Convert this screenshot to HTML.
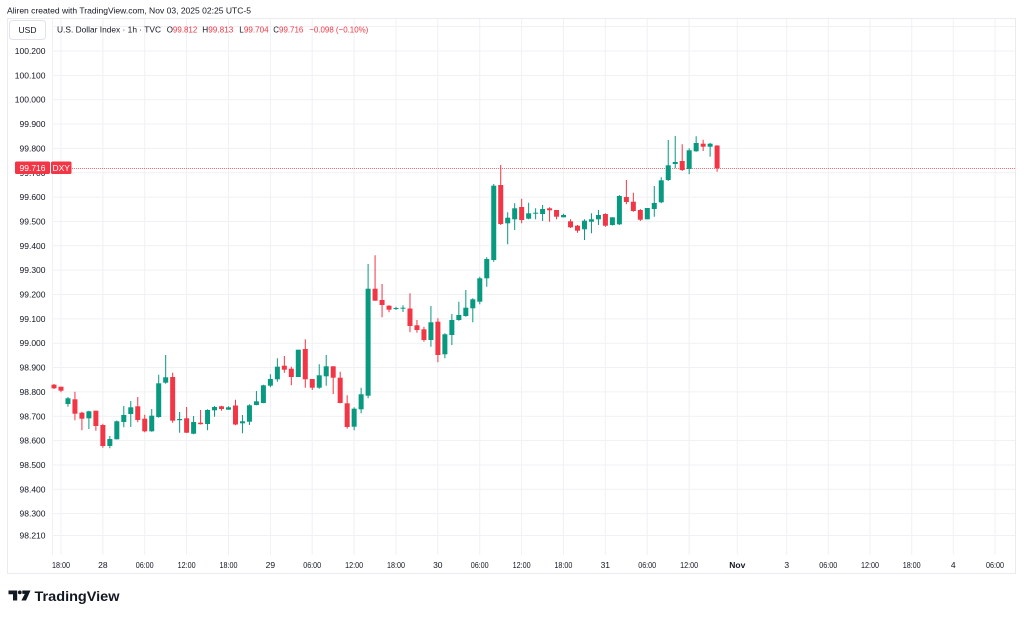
<!DOCTYPE html>
<html>
<head>
<meta charset="utf-8">
<style>
html,body{margin:0;padding:0;background:#ffffff;}
svg{display:block;}
text{font-family:"Liberation Sans",Arial,sans-serif;}
</style>
</head>
<body>
<svg width="1024" height="618" viewBox="0 0 1024 618" xmlns="http://www.w3.org/2000/svg">
<rect x="0" y="0" width="1024" height="618" fill="#ffffff"/>

<!-- header -->
<text x="7" y="13.5" font-size="8.6" fill="#131722" textLength="244" lengthAdjust="spacingAndGlyphs">Aliren created with TradingView.com, Nov 03, 2025 02:25 UTC-5</text>

<!-- frame -->
<rect x="7.5" y="18.5" width="1008" height="555" fill="none" stroke="#e9ebef" stroke-width="1"/>

<!-- gridlines -->
<g stroke="#f0f1f4" stroke-width="1">
<path d="M52.5 18.5V555"/>
<path d="M61 19V555M102.9 19V555M144.7 19V555M186.6 19V555M228.5 19V555M270.4 19V555M312.2 19V555M354.1 19V555M396 19V555M437.8 19V555M479.7 19V555M521.6 19V555M563.4 19V555M605.3 19V555M647.2 19V555M689.1 19V555M737.3 19V555M786.7 19V555M828.3 19V555M870 19V555M911.7 19V555M953.3 19V555M995 19V555"/>
<path d="M52 26.65H1015M52 51H1015M52 75.35H1015M52 99.7H1015M52 124.05H1015M52 148.4H1015M52 172.75H1015M52 197.1H1015M52 221.45H1015M52 245.8H1015M52 270.15H1015M52 294.5H1015M52 318.85H1015M52 343.2H1015M52 367.55H1015M52 391.9H1015M52 416.25H1015M52 440.6H1015M52 464.95H1015M52 489.3H1015M52 513.65H1015M52 535.5H1015"/>
</g>

<!-- y axis labels -->
<g font-size="8.5" fill="#131722" text-anchor="end">
<text x="45.5" y="54">100.200</text>
<text x="45.5" y="78.35">100.100</text>
<text x="45.5" y="102.7">100.000</text>
<text x="45.5" y="127.05">99.900</text>
<text x="45.5" y="151.4">99.800</text>
<text x="45.5" y="175.75">99.700</text>
<text x="45.5" y="200.1">99.600</text>
<text x="45.5" y="224.45">99.500</text>
<text x="45.5" y="248.8">99.400</text>
<text x="45.5" y="273.15">99.300</text>
<text x="45.5" y="297.5">99.200</text>
<text x="45.5" y="321.85">99.100</text>
<text x="45.5" y="346.2">99.000</text>
<text x="45.5" y="370.55">98.900</text>
<text x="45.5" y="394.9">98.800</text>
<text x="45.5" y="419.25">98.700</text>
<text x="45.5" y="443.6">98.600</text>
<text x="45.5" y="467.95">98.500</text>
<text x="45.5" y="492.3">98.400</text>
<text x="45.5" y="516.65">98.300</text>
<text x="45.5" y="538.6">98.210</text>
</g>

<!-- USD box -->
<rect x="9.5" y="20.5" width="36" height="19" rx="3" fill="#ffffff" stroke="#e0e3eb"/>
<text x="27.5" y="33" font-size="8.5" fill="#131722" text-anchor="middle">USD</text>

<!-- legend -->
<g font-size="8.6">
<text x="57" y="32.5" fill="#131722" textLength="104" lengthAdjust="spacingAndGlyphs">U.S. Dollar Index · 1h · TVC</text>
<text x="166.7" y="32.5" textLength="30.6" lengthAdjust="spacingAndGlyphs"><tspan fill="#131722">O</tspan><tspan fill="#f23645">99.812</tspan></text>
<text x="202.3" y="32.5" textLength="31" lengthAdjust="spacingAndGlyphs"><tspan fill="#131722">H</tspan><tspan fill="#f23645">99.813</tspan></text>
<text x="239.3" y="32.5" textLength="29.4" lengthAdjust="spacingAndGlyphs"><tspan fill="#131722">L</tspan><tspan fill="#f23645">99.704</tspan></text>
<text x="273.3" y="32.5" textLength="30" lengthAdjust="spacingAndGlyphs"><tspan fill="#131722">C</tspan><tspan fill="#f23645">99.716</tspan></text>
<text x="309.3" y="32.5" fill="#f23645" textLength="59" lengthAdjust="spacingAndGlyphs">−0.098 (−0.10%)</text>
</g>

<!-- current price line -->
<path d="M72 168.5H1015" stroke="#f23645" stroke-width="1" stroke-dasharray="1 1" opacity="0.7"/>

<!-- candles: wicks -->
<g stroke="#089981" stroke-width="1" fill="none">
<path d="M67.96 397V406.7M88.9 410.7V429M109.84 436V448.3M116.82 420.5V439.5M123.8 406V427.3M130.78 401V427M151.72 409V431.7M158.7 374.7V417.7M165.68 355V383.7M179.64 412V432.7M193.6 416V434.3M207.56 409.3V430.3M214.54 406V416.7M228.5 406.3V409.7M242.46 415V433.3M249.44 404.3V425M256.42 391V405.3M263.4 384.7V403.3M270.38 374.3V387.3M277.36 358.3V381.7M298.3 349.7V377M319.24 364.3V388.7M326.22 355V385.7M354.14 407.3V430.3M361.12 387.7V413.3M368.1 264V398.3M396.02 306.7V310M403 305.3V312M430.92 306V346.7M444.88 333.3V358.3M451.86 314V345M458.84 301.7V320.7M465.82 290V316.7M472.8 298.3V322.3M479.78 276.7V304.3M486.76 257.3V286.7M493.74 184V261.7M507.7 212.3V244.3M514.68 203.3V230M528.64 202.7V219.3M535.62 208.3V219.3M542.6 205V221M563.54 213.7V217.3M584.48 219.3V240M591.46 213.3V233.3M598.44 210V225M612.4 217.3V225.5M619.38 195V225M647.3 208V219.3M654.28 186V216.7M661.26 177.3V203.3M668.24 140V181M675.22 136V168.3M689.18 148.3V174.3M696.16 136.3V151.7M710.12 143V156.7"/>
</g>
<g stroke="#f23645" stroke-width="1" fill="none">
<path d="M54 384V389M60.98 386.7V392.3M74.94 391.7V420.3M81.92 411.7V430.3M95.88 410.7V430.7M102.86 423.7V447.7M137.76 397V422.3M144.74 414.7V432.3M172.66 372.7V422.7M186.62 407V433M200.58 410V424.5M221.52 405.7V410.7M235.48 399.7V425.3M284.34 356V372.7M291.32 366.7V385.3M305.28 339.3V387.7M312.26 379V390M333.2 366.3V394M340.18 371.7V403.3M347.16 395.3V428.7M375.08 255.3V300.7M382.06 284V317.3M389.04 305.3V312.3M409.98 293.3V332.2M416.96 320V332.7M423.94 326.7V341.7M437.9 318.3V362.3M500.72 165V225M521.66 198.7V223.3M549.58 207.3V221.7M556.56 210V219.3M570.52 219.3V228M577.5 225V232.7M605.42 213.3V226.7M626.36 180V204.3M633.34 192.7V211.7M640.32 209V221M682.2 144.3V171M703.14 139.7V151M717.1 145.2V171.8"/>
</g>

<!-- candles: bodies -->
<g fill="#089981">
<rect x="65.46" y="398.3" width="5" height="5.7"/>
<rect x="86.4" y="411.3" width="5" height="7"/>
<rect x="107.34" y="439" width="5" height="7"/>
<rect x="114.32" y="421.3" width="5" height="18"/>
<rect x="121.3" y="415" width="5" height="7"/>
<rect x="128.28" y="407.3" width="5" height="6.7"/>
<rect x="149.22" y="415.7" width="5" height="15.6"/>
<rect x="156.2" y="383.3" width="5" height="33.7"/>
<rect x="163.18" y="377.3" width="5" height="5.4"/>
<rect x="177.14" y="419" width="5" height="1.2"/>
<rect x="191.1" y="422" width="5" height="11.7"/>
<rect x="205.06" y="410" width="5" height="14"/>
<rect x="212.04" y="407" width="5" height="3.3"/>
<rect x="226" y="407.3" width="5" height="2.4"/>
<rect x="239.96" y="421.3" width="5" height="2"/>
<rect x="246.94" y="405.3" width="5" height="16.4"/>
<rect x="253.92" y="401.3" width="5" height="3.7"/>
<rect x="260.9" y="385.3" width="5" height="17.7"/>
<rect x="267.88" y="379" width="5" height="6.7"/>
<rect x="274.86" y="366.7" width="5" height="12.6"/>
<rect x="295.8" y="349.7" width="5" height="27.3"/>
<rect x="316.74" y="375.3" width="5" height="12.4"/>
<rect x="323.72" y="366.3" width="5" height="10"/>
<rect x="351.64" y="408.7" width="5" height="18"/>
<rect x="358.62" y="394.3" width="5" height="15"/>
<rect x="365.6" y="288.7" width="5" height="107"/>
<rect x="393.52" y="308" width="5" height="1"/>
<rect x="400.5" y="307.7" width="5" height="1"/>
<rect x="428.42" y="322.3" width="5" height="17.7"/>
<rect x="442.38" y="334.3" width="5" height="20"/>
<rect x="449.36" y="320" width="5" height="15"/>
<rect x="456.34" y="315" width="5" height="5"/>
<rect x="463.32" y="307.7" width="5" height="8.3"/>
<rect x="470.3" y="299.3" width="5" height="9"/>
<rect x="477.28" y="278.3" width="5" height="23.4"/>
<rect x="484.26" y="259" width="5" height="19.3"/>
<rect x="491.24" y="185.7" width="5" height="74.3"/>
<rect x="505.2" y="217.7" width="5" height="5.6"/>
<rect x="512.18" y="208.3" width="5" height="11"/>
<rect x="526.14" y="213.3" width="5" height="5.4"/>
<rect x="533.12" y="212.7" width="5" height="1"/>
<rect x="540.1" y="209" width="5" height="5"/>
<rect x="561.04" y="215" width="5" height="2.3"/>
<rect x="581.98" y="220.7" width="5" height="8.6"/>
<rect x="588.96" y="219.3" width="5" height="2.4"/>
<rect x="595.94" y="215" width="5" height="4.3"/>
<rect x="609.9" y="217.3" width="5" height="7.7"/>
<rect x="616.88" y="196" width="5" height="28.3"/>
<rect x="644.8" y="208" width="5" height="11.3"/>
<rect x="651.78" y="203" width="5" height="6"/>
<rect x="658.76" y="180.3" width="5" height="22"/>
<rect x="665.74" y="165.3" width="5" height="14.7"/>
<rect x="672.72" y="162" width="5" height="2"/>
<rect x="686.68" y="150.3" width="5" height="18.7"/>
<rect x="693.66" y="143" width="5" height="8.3"/>
<rect x="707.62" y="143.7" width="5" height="3"/>
</g>
<g fill="#f23645">
<rect x="51.5" y="384.7" width="5" height="3.6"/>
<rect x="58.48" y="386.7" width="5" height="4"/>
<rect x="72.44" y="399.3" width="5" height="14.4"/>
<rect x="79.42" y="412.7" width="5" height="6"/>
<rect x="93.38" y="410.7" width="5" height="15.3"/>
<rect x="100.36" y="425" width="5" height="21"/>
<rect x="135.26" y="406.3" width="5" height="13.7"/>
<rect x="142.24" y="418.7" width="5" height="12.6"/>
<rect x="170.16" y="377" width="5" height="43.7"/>
<rect x="184.12" y="418.3" width="5" height="14.4"/>
<rect x="198.08" y="422.7" width="5" height="1.5"/>
<rect x="219.02" y="406.3" width="5" height="2.7"/>
<rect x="232.98" y="405.5" width="5" height="19"/>
<rect x="281.84" y="365.7" width="5" height="4"/>
<rect x="288.82" y="368.7" width="5" height="8.3"/>
<rect x="302.78" y="349" width="5" height="30.3"/>
<rect x="309.76" y="379" width="5" height="8.7"/>
<rect x="330.7" y="366.3" width="5" height="11.4"/>
<rect x="337.68" y="377.7" width="5" height="25.3"/>
<rect x="344.66" y="403.3" width="5" height="23.7"/>
<rect x="372.58" y="288.7" width="5" height="12"/>
<rect x="379.56" y="300" width="5" height="5"/>
<rect x="386.54" y="305.7" width="5" height="4"/>
<rect x="407.48" y="308.5" width="5" height="17.5"/>
<rect x="414.46" y="325.3" width="5" height="4.7"/>
<rect x="421.44" y="329.3" width="5" height="10.7"/>
<rect x="435.4" y="321.7" width="5" height="33.3"/>
<rect x="498.22" y="185" width="5" height="39"/>
<rect x="519.16" y="207" width="5" height="13"/>
<rect x="547.08" y="208.3" width="5" height="2"/>
<rect x="554.06" y="210" width="5" height="6.7"/>
<rect x="568.02" y="221.3" width="5" height="6"/>
<rect x="575" y="225.7" width="5" height="5"/>
<rect x="602.92" y="214" width="5" height="11.7"/>
<rect x="623.86" y="197" width="5" height="5"/>
<rect x="630.84" y="201.7" width="5" height="9.3"/>
<rect x="637.82" y="210" width="5" height="9.7"/>
<rect x="679.7" y="161" width="5" height="9"/>
<rect x="700.64" y="143.7" width="5" height="3"/>
<rect x="714.6" y="145.5" width="5" height="22.8"/>
</g>

<!-- price label -->
<rect x="15" y="161.5" width="35" height="12.5" rx="1.5" fill="#f23645"/>
<text x="32.5" y="171" font-size="8.5" fill="#ffffff" text-anchor="middle">99.716</text>
<rect x="51" y="161.5" width="20.5" height="12.5" rx="1.5" fill="#f23645"/>
<text x="61.25" y="171" font-size="8.5" fill="#ffffff" text-anchor="middle">DXY</text>

<!-- x axis labels -->
<g font-size="8.5" fill="#131722" text-anchor="middle">
<text x="61" y="568" textLength="18" lengthAdjust="spacingAndGlyphs">18:00</text>
<text x="102.9" y="568">28</text>
<text x="144.7" y="568" textLength="18" lengthAdjust="spacingAndGlyphs">06:00</text>
<text x="186.6" y="568" textLength="18" lengthAdjust="spacingAndGlyphs">12:00</text>
<text x="228.5" y="568" textLength="18" lengthAdjust="spacingAndGlyphs">18:00</text>
<text x="270.4" y="568">29</text>
<text x="312.2" y="568" textLength="18" lengthAdjust="spacingAndGlyphs">06:00</text>
<text x="354.1" y="568" textLength="18" lengthAdjust="spacingAndGlyphs">12:00</text>
<text x="396" y="568" textLength="18" lengthAdjust="spacingAndGlyphs">18:00</text>
<text x="437.8" y="568">30</text>
<text x="479.7" y="568" textLength="18" lengthAdjust="spacingAndGlyphs">06:00</text>
<text x="521.6" y="568" textLength="18" lengthAdjust="spacingAndGlyphs">12:00</text>
<text x="563.4" y="568" textLength="18" lengthAdjust="spacingAndGlyphs">18:00</text>
<text x="605.3" y="568">31</text>
<text x="647.2" y="568" textLength="18" lengthAdjust="spacingAndGlyphs">06:00</text>
<text x="689.1" y="568" textLength="18" lengthAdjust="spacingAndGlyphs">12:00</text>
<text x="737.3" y="568" font-weight="bold">Nov</text>
<text x="786.7" y="568">3</text>
<text x="828.3" y="568" textLength="18" lengthAdjust="spacingAndGlyphs">06:00</text>
<text x="870" y="568" textLength="18" lengthAdjust="spacingAndGlyphs">12:00</text>
<text x="911.7" y="568" textLength="18" lengthAdjust="spacingAndGlyphs">18:00</text>
<text x="953.3" y="568">4</text>
<text x="995" y="568" textLength="18" lengthAdjust="spacingAndGlyphs">06:00</text>
</g>

<!-- TradingView logo -->
<g fill="#131722">
<path d="M8.5 590.5H17.2V600.5H13V594.2H8.5Z"/>
<circle cx="19.8" cy="592.4" r="1.9"/>
<path d="M22.3 590.5H30.5L26 600.5H21.4L24.8 593.9H22.3Z"/>
</g>
<text x="34.5" y="601" font-size="14" font-weight="bold" fill="#131722" textLength="85" lengthAdjust="spacingAndGlyphs">TradingView</text>
</svg>
</body>
</html>
